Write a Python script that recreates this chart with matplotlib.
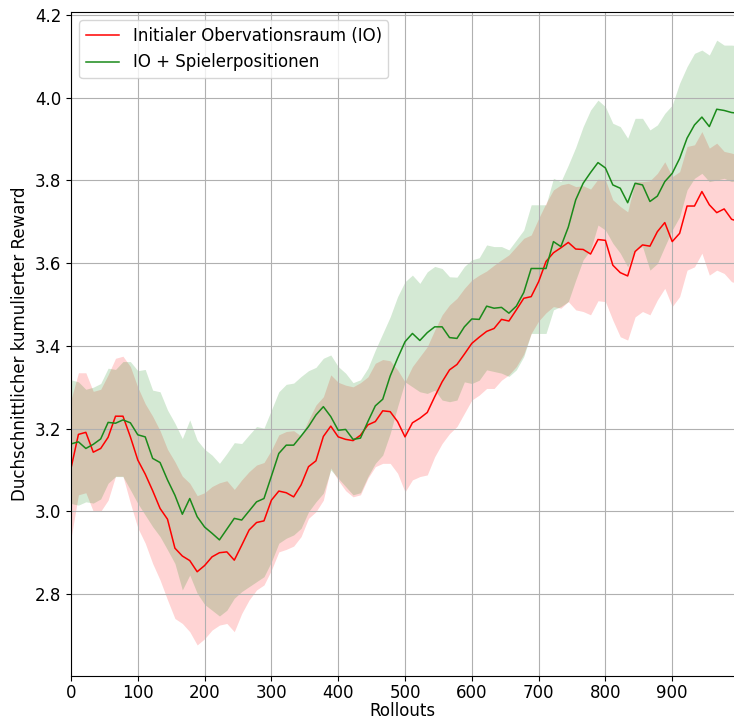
import numpy as np
import matplotlib.pyplot as plt

# Rollouts (91 Messpunkte von 0 bis 1000)
rollouts = np.linspace(0, 1000, 91)

# Initialer Obervationsraum (IO)
io_mean = [3.104, 3.186, 3.191, 3.143, 3.152, 3.179, 3.230, 3.230, 3.180, 3.124,
           3.090, 3.050, 3.007, 2.981, 2.911, 2.892, 2.881, 2.854, 2.869, 2.890,
           2.900, 2.902, 2.882, 2.918, 2.955, 2.973, 2.977, 3.027, 3.049, 3.045,
           3.035, 3.064, 3.108, 3.122, 3.181, 3.206, 3.180, 3.174, 3.171, 3.184,
           3.209, 3.217, 3.243, 3.241, 3.217, 3.180, 3.214, 3.225, 3.239, 3.277,
           3.313, 3.342, 3.355, 3.380, 3.406, 3.421, 3.435, 3.442, 3.464, 3.460,
           3.487, 3.515, 3.519, 3.555, 3.604, 3.625, 3.637, 3.650, 3.634, 3.633,
           3.622, 3.657, 3.655, 3.595, 3.577, 3.569, 3.628, 3.644, 3.641, 3.676,
           3.698, 3.652, 3.672, 3.738, 3.738, 3.773, 3.741, 3.722, 3.731, 3.706,
           3.700]
io_upper = [3.270, 3.335, 3.335, 3.290, 3.295, 3.330, 3.370, 3.375, 3.350, 3.300,
            3.260, 3.230, 3.195, 3.150, 3.120, 3.085, 3.068, 3.038, 3.045, 3.060,
            3.069, 3.074, 3.053, 3.076, 3.096, 3.112, 3.118, 3.148, 3.185, 3.193,
            3.195, 3.182, 3.221, 3.257, 3.277, 3.330, 3.312, 3.305, 3.301, 3.311,
            3.325, 3.358, 3.367, 3.364, 3.342, 3.313, 3.350, 3.374, 3.398, 3.438,
            3.475, 3.499, 3.515, 3.539, 3.559, 3.571, 3.581, 3.595, 3.608, 3.620,
            3.640, 3.660, 3.668, 3.708, 3.745, 3.777, 3.789, 3.793, 3.785, 3.787,
            3.779, 3.803, 3.801, 3.753, 3.737, 3.724, 3.797, 3.797, 3.799, 3.817,
            3.845, 3.809, 3.821, 3.882, 3.886, 3.918, 3.878, 3.890, 3.870, 3.866,
            3.860]
io_lower = [2.935, 3.040, 3.045, 3.000, 3.000, 3.027, 3.085, 3.085, 3.020, 2.960,
            2.923, 2.874, 2.834, 2.786, 2.741, 2.729, 2.709, 2.677, 2.692, 2.713,
            2.725, 2.729, 2.709, 2.753, 2.786, 2.810, 2.822, 2.858, 2.902, 2.908,
            2.916, 2.939, 2.983, 2.999, 3.027, 3.105, 3.075, 3.050, 3.035, 3.040,
            3.080, 3.108, 3.116, 3.116, 3.092, 3.047, 3.076, 3.084, 3.088, 3.132,
            3.164, 3.188, 3.205, 3.237, 3.269, 3.281, 3.297, 3.297, 3.317, 3.330,
            3.350, 3.380, 3.430, 3.460, 3.480, 3.495, 3.491, 3.507, 3.487, 3.483,
            3.475, 3.509, 3.507, 3.462, 3.422, 3.414, 3.470, 3.483, 3.475, 3.511,
            3.539, 3.495, 3.519, 3.583, 3.591, 3.624, 3.571, 3.583, 3.575, 3.555,
            3.550]

# IO + Spielerpositionen
sp_mean = [3.163, 3.168, 3.152, 3.162, 3.175, 3.215, 3.213, 3.221, 3.214, 3.185,
           3.180, 3.128, 3.118, 3.076, 3.039, 2.993, 3.031, 2.987, 2.962, 2.947,
           2.931, 2.957, 2.983, 2.979, 3.001, 3.023, 3.031, 3.085, 3.140, 3.160,
           3.160, 3.182, 3.205, 3.233, 3.253, 3.229, 3.196, 3.198, 3.174, 3.177,
           3.217, 3.255, 3.271, 3.327, 3.370, 3.410, 3.430, 3.413, 3.432, 3.446,
           3.446, 3.420, 3.418, 3.446, 3.465, 3.464, 3.496, 3.491, 3.493, 3.479,
           3.496, 3.529, 3.587, 3.587, 3.587, 3.652, 3.640, 3.687, 3.753, 3.793,
           3.819, 3.843, 3.830, 3.789, 3.781, 3.746, 3.793, 3.789, 3.749, 3.762,
           3.797, 3.817, 3.853, 3.902, 3.934, 3.953, 3.930, 3.972, 3.969, 3.964,
           3.962]
sp_upper = [3.318, 3.313, 3.295, 3.300, 3.309, 3.346, 3.343, 3.362, 3.362, 3.340,
            3.343, 3.293, 3.289, 3.245, 3.213, 3.176, 3.221, 3.172, 3.150, 3.136,
            3.116, 3.140, 3.166, 3.164, 3.185, 3.205, 3.201, 3.245, 3.289, 3.307,
            3.310, 3.326, 3.340, 3.348, 3.370, 3.378, 3.350, 3.334, 3.311, 3.318,
            3.346, 3.390, 3.430, 3.470, 3.519, 3.555, 3.571, 3.551, 3.579, 3.592,
            3.587, 3.567, 3.566, 3.592, 3.608, 3.613, 3.644, 3.640, 3.640, 3.632,
            3.656, 3.680, 3.741, 3.741, 3.741, 3.805, 3.797, 3.837, 3.880, 3.930,
            3.970, 3.994, 3.978, 3.938, 3.930, 3.902, 3.950, 3.950, 3.922, 3.934,
            3.962, 3.982, 4.035, 4.075, 4.107, 4.115, 4.103, 4.139, 4.127, 4.127,
            4.125]
sp_lower = [3.019, 3.015, 3.023, 3.020, 3.030, 3.068, 3.084, 3.084, 3.052, 3.019,
            2.991, 2.963, 2.939, 2.907, 2.874, 2.810, 2.846, 2.802, 2.775, 2.761,
            2.747, 2.761, 2.790, 2.806, 2.818, 2.830, 2.842, 2.878, 2.923, 2.935,
            2.943, 2.959, 2.999, 3.023, 3.044, 3.100, 3.080, 3.060, 3.040, 3.045,
            3.084, 3.116, 3.136, 3.188, 3.253, 3.313, 3.301, 3.289, 3.285, 3.293,
            3.269, 3.265, 3.269, 3.313, 3.309, 3.317, 3.342, 3.338, 3.334, 3.326,
            3.342, 3.374, 3.430, 3.430, 3.430, 3.487, 3.495, 3.507, 3.559, 3.608,
            3.632, 3.692, 3.680, 3.648, 3.624, 3.591, 3.632, 3.640, 3.583, 3.599,
            3.640, 3.680, 3.712, 3.777, 3.805, 3.817, 3.797, 3.801, 3.805, 3.797,
            3.800]

labels = ['Initialer Obervationsraum (IO)', 'IO + Spielerpositionen']


def main():
    plt.rcParams['font.size'] = 12
    fig = plt.figure(figsize=(7.34, 7.2), dpi=100)
    ax = fig.add_axes([71 / 734, 1 - 676 / 720, 1 - 71 / 734, 664 / 720])

    ax.plot(rollouts, io_mean, color='red', linewidth=1.1, label=labels[0])
    ax.fill_between(rollouts, io_lower, io_upper, color='red', alpha=0.17, linewidth=0)
    ax.plot(rollouts, sp_mean, color='#1a8a1a', linewidth=1.1, label=labels[1])
    ax.fill_between(rollouts, sp_lower, sp_upper, color='green', alpha=0.17, linewidth=0)

    ax.set_xlim(0, 992.5)
    ax.set_ylim(2.602, 4.207)
    ax.set_xticks(np.arange(0, 1000, 100))
    ax.set_xlabel('Rollouts', labelpad=0)
    ax.set_ylabel('Duchschnittlicher kumulierter Reward')
    ax.tick_params(axis='x', pad=2)
    ax.grid(True)
    ax.spines['right'].set_visible(False)
    ax.legend(loc='upper left')

    plt.savefig('out.png', dpi=100)


if __name__ == "__main__":
    main()
